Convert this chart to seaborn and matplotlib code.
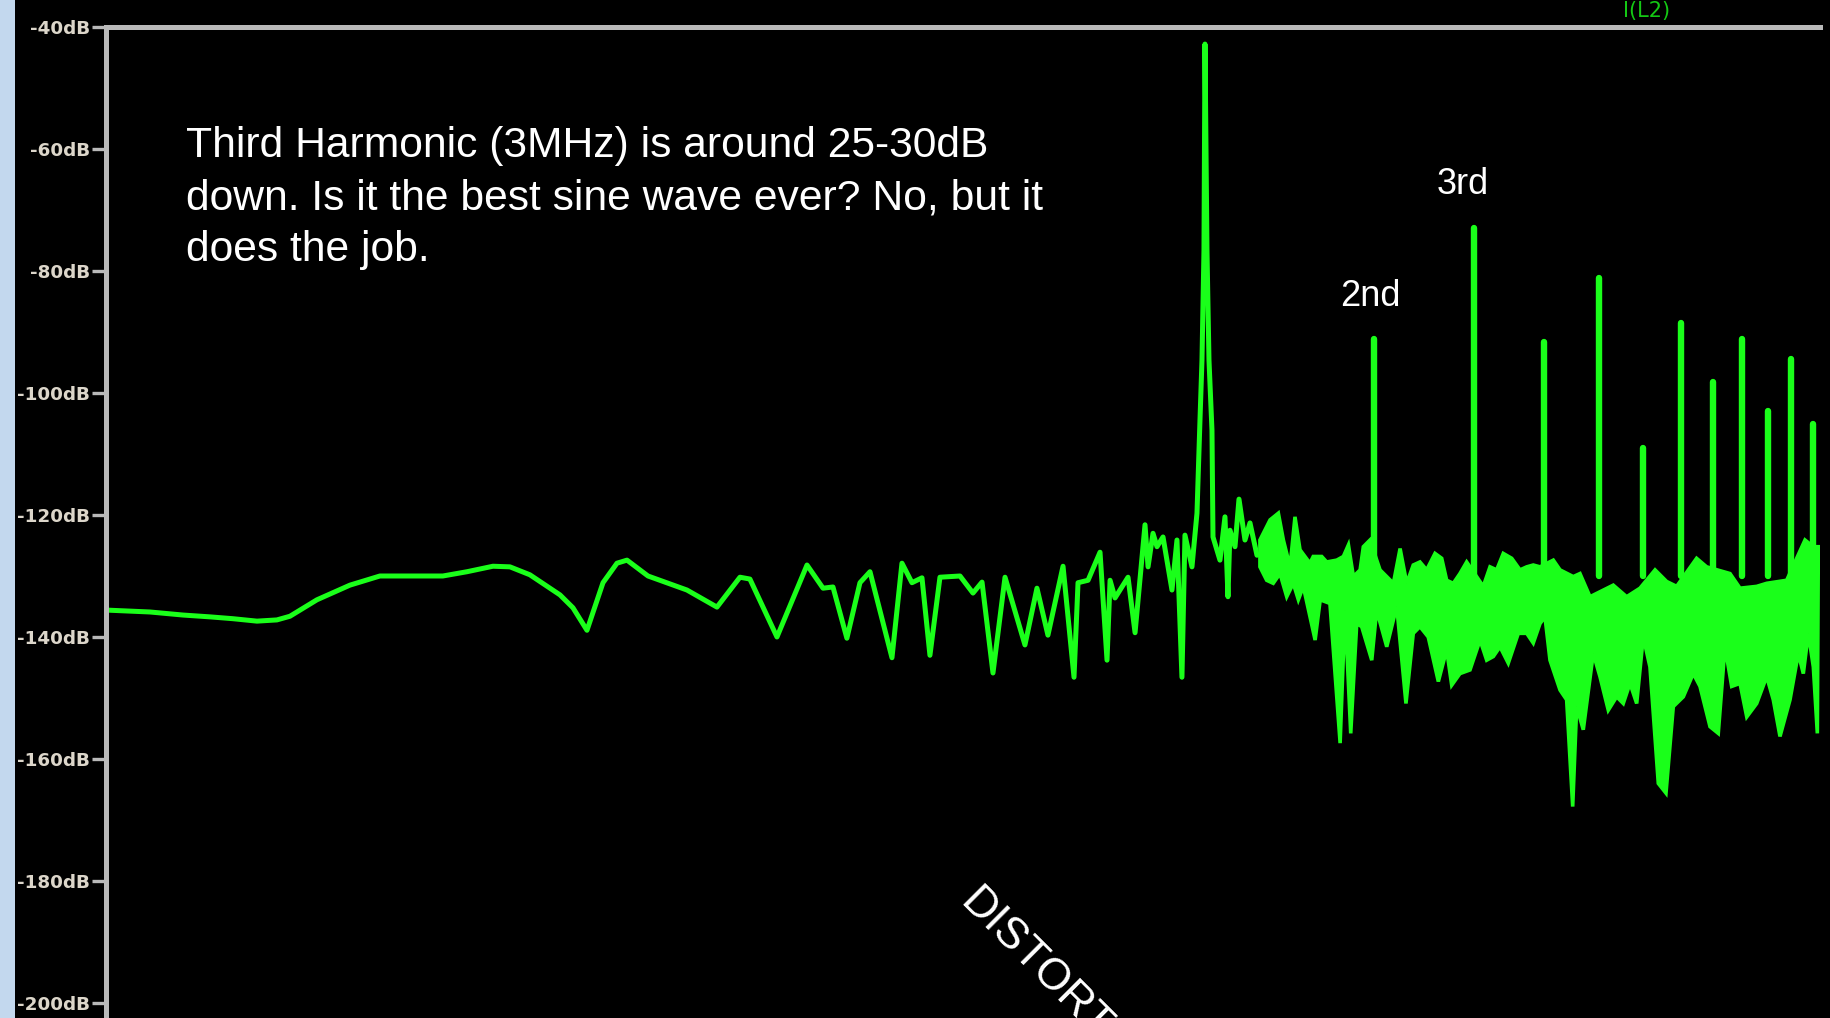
import numpy as np
import pandas as pd
import matplotlib
matplotlib.use("Agg")
import matplotlib.pyplot as plt
from matplotlib.patches import Rectangle
from matplotlib.ticker import NullLocator
import seaborn as sns

# ---------------------------------------------------------------------------
# FFT of I(L2): frequency in kHz, magnitude in dB
# ---------------------------------------------------------------------------
# Trace from the low end up to just past the 1 MHz carrier
trace_khz = [11.26, 13.37, 15.30, 17.09, 18.77, 20.71, 22.47, 23.70, 26.47, 30.29,
             34.24, 44.30, 48.89, 54.37, 58.28, 63.23, 71.52, 75.40, 79.86, 85.27,
             90.29, 94.06, 102.5, 120.2, 135.9, 149.3, 155.5, 173.7, 196.4, 209.7,
             218.4, 231.2, 243.9, 254.1, 278.0, 289.6, 301.7, 314.3, 324.7, 338.3,
             367.2, 387.2, 401.8, 420.2, 432.5, 441.4, 478.9, 503.0, 526.1, 559.6,
             585.3, 595.0, 619.9, 651.0, 669.9, 678.3, 692.2, 730.0, 751.3, 782.5,
             792.3, 808.5, 821.8, 842.3, 873.7, 891.8, 910.1, 921.4, 948.2, 967.8,
             979.8, 987.8, 995.9, 1000.0, 1008.2, 1016.5, 1029.0, 1033.3, 1063.2, 1085.2,
             1098.6, 1107.7, 1130.6, 1149.2, 1177.7, 1202.1, 1237.0]
trace_db = [-135.6, -135.9, -136.4, -136.7, -137.0, -137.4, -137.2, -136.6, -133.9, -131.5,
            -130.0, -130.0, -129.3, -128.4, -128.5, -129.8, -133.1, -135.2, -138.9, -131.1,
            -127.9, -127.4, -130.0, -132.3, -135.1, -130.2, -130.5, -140.0, -128.2, -132.0,
            -131.8, -140.2, -131.1, -129.3, -143.4, -127.9, -131.1, -130.3, -143.0, -130.2,
            -130.0, -132.8, -131.0, -145.9, -136.7, -130.2, -141.3, -132.0, -139.7, -128.4,
            -146.6, -131.1, -130.7, -126.1, -143.8, -130.7, -133.6, -130.2, -139.3, -121.6,
            -128.5, -123.0, -125.2, -123.6, -132.3, -124.1, -146.6, -123.3, -128.5, -119.7,
            -104.4, -94.6, -76.6, -42.8, -76.6, -94.6, -106.1, -123.6, -127.4, -120.3,
            -133.4, -122.5, -125.2, -117.4, -124.1, -121.3, -126.6]

# Dense noise floor above ~1.25 MHz: upper edge
floor_hi_khz = [1252, 1305, 1350, 1378, 1416, 1445, 1475, 1536, 1557, 1612,
                1645, 1714, 1761, 1798, 1835, 1886, 1911, 1964, 2046, 2103,
                2161, 2221, 2282, 2344, 2409, 2476, 2562, 2633, 2687, 2761,
                2837, 2916, 3121, 3208, 3297, 3387, 3506, 3627, 3728, 3829,
                3936, 4156, 4272, 4510, 4635, 4829, 5311, 5610, 5924, 6301,
                6607, 6883, 7468, 7781, 8561, 8919, 9548, 9947, 10794, 11634,
                12037, 12286]
floor_hi_db = [-124.1, -120.8, -119.7, -124.1, -128.5, -120.3, -125.7, -127.9, -126.8, -126.8,
               -127.7, -127.4, -126.8, -124.9, -130.1, -129.0, -125.2, -124.1, -129.0, -130.1,
               -131.2, -125.5, -131.2, -128.2, -127.7, -129.0, -126.3, -127.1, -130.7, -131.2,
               -129.6, -127.7, -131.7, -128.5, -129.0, -126.3, -127.1, -129.0, -128.5, -128.2,
               -128.5, -127.4, -129.0, -130.1, -129.6, -133.4, -131.5, -133.4, -132.0, -129.0,
               -130.9, -131.7, -127.1, -128.5, -129.6, -132.0, -131.7, -131.2, -130.7, -124.1,
               -125.2, -125.2]

# Dense noise floor: lower edge (deep nulls included)
floor_lo_khz = [1252, 1287, 1322, 1359, 1397, 1435, 1465, 1495, 1569, 1602,
                1667, 1738, 1773, 1815, 1860, 1898, 1978, 2018, 2103, 2191,
                2275, 2344, 2409, 2492, 2597, 2687, 2743, 2837, 2956, 3080,
                3165, 3252, 3342, 3457, 3602, 3728, 3829, 3936, 4017, 4100,
                4272, 4389, 4499, 4573, 4698, 4894, 5030, 5204, 5385, 5533,
                5687, 5845, 6004, 6171, 6385, 6589, 6789, 7073, 7367, 7572,
                7889, 8160, 8387, 8620, 8919, 9168, 9548, 9947, 10219, 10503,
                10942, 11320, 11554, 11793, 12037, 12236]
floor_lo_db = [-128.5, -130.7, -131.2, -129.6, -133.4, -131.2, -133.9, -131.7, -140.5, -133.9,
               -134.5, -157.4, -135.6, -155.8, -137.8, -138.3, -143.8, -135.6, -141.6, -135.0,
               -150.9, -139.4, -138.3, -140.0, -147.3, -142.1, -147.9, -146.0, -145.4, -140.5,
               -143.8, -143.2, -141.6, -144.3, -139.4, -139.4, -141.0, -137.8, -136.7, -143.8,
               -148.7, -150.3, -167.8, -151.4, -155.2, -142.7, -146.5, -152.0, -149.8, -150.9,
               -147.6, -150.9, -140.0, -144.9, -164.0, -165.6, -151.4, -149.8, -146.0, -148.1,
               -154.7, -155.8, -141.6, -148.1, -147.6, -153.1, -150.9, -146.5, -150.3, -156.3,
               -150.3, -142.7, -146.0, -139.4, -144.9, -155.8]

# Harmonics of the 1 MHz carrier
fundamental_khz = 1000.0
harmonic_order = [2, 3, 4, 5, 6, 7, 8, 9, 10, 11, 12]
harmonic_db = [-91.1, -73.0, -91.6, -81.1, -109.0, -88.5, -98.2, -91.1, -103.0, -94.4, -105.1]
harmonic_base_db = -130.0

y_ticks = [-40, -60, -80, -100, -120, -140, -160, -180, -200]
y_tick_labels = ["-40dB", "-60dB", "-80dB", "-100dB", "-120dB",
                 "-140dB", "-160dB", "-180dB", "-200dB"]

# ---------------------------------------------------------------------------
W, H = 1830, 1018
TRACE = "#1aff1a"
GRID = "#b9b9b9"

sns.set_style("dark", {"axes.facecolor": "black", "figure.facecolor": "black"})

fig = plt.figure(figsize=(W / 100, H / 100), dpi=100, facecolor="black")

# light window-frame strip on the far left
fig.patches.append(Rectangle((0, 0), 15 / W, 1, transform=fig.transFigure,
                             facecolor="#c3d8ee", edgecolor="none", zorder=0))

ax = fig.add_axes([106 / W, 0, (1820 - 106) / W, 1 - 27 / H])
ax.set_facecolor("black")

sns.lineplot(x=trace_khz, y=trace_db, sort=False, estimator=None,
             color=TRACE, linewidth=3.6, ax=ax)

# noise floor band
band_x = np.concatenate([floor_hi_khz, floor_lo_khz[::-1]])
band_y = np.concatenate([floor_hi_db, floor_lo_db[::-1]])
ax.fill(band_x, band_y, facecolor=TRACE, edgecolor=TRACE, linewidth=2.6, zorder=2)

# harmonic spikes
harm = pd.DataFrame({
    "n": np.repeat(harmonic_order, 2),
    "khz": np.repeat(np.array(harmonic_order) * fundamental_khz, 2),
    "db": np.ravel([[harmonic_base_db, d] for d in harmonic_db]),
})
sns.lineplot(data=harm, x="khz", y="db", units="n", estimator=None, sort=False,
             color=TRACE, linewidth=4.6, ax=ax)

ax.set_xscale("log")
ax.set_xlim(11.17, 12370)
ax.set_ylim(-202.46, -40)
ax.set_xticks([])
ax.xaxis.set_minor_locator(NullLocator())
ax.set_yticks(y_ticks)
ax.set_yticklabels(y_tick_labels, fontfamily="DejaVu Sans", fontsize=13.2,
                   fontweight="bold", color="#dcd6ca")
ax.tick_params(axis="y", direction="out", length=10, width=2.4, color=GRID,
               pad=1.5, left=True)
ax.set_xlabel("")
ax.set_ylabel("")
ax.grid(False)
for side in ("right", "bottom"):
    ax.spines[side].set_visible(False)
for side in ("left", "top"):
    ax.spines[side].set_visible(True)
    ax.spines[side].set_color(GRID)
    ax.spines[side].set_linewidth(3.6)


def fx(px):
    return px / W


def fy(py):
    return 1 - py / H


fig.text(fx(1623), fy(17), "I(L2)", color="#14c814", fontsize=15,
         fontfamily="DejaVu Sans", ha="left", va="baseline")

fig.text(fx(186), fy(198),
         "Third Harmonic (3MHz) is around 25-30dB\n"
         "down. Is it the best sine wave ever? No, but it\n"
         "does the job.",
         color="white", fontsize=30.7, fontfamily="Liberation Sans",
         ha="left", va="center", linespacing=1.39)

fig.text(fx(1370), fy(297), "2nd", color="white", fontsize=26,
         fontfamily="Liberation Sans", ha="center", va="center")
fig.text(fx(1463), fy(185), "3rd", color="white", fontsize=26,
         fontfamily="Liberation Sans", ha="center", va="center")

fig.text(fx(958), fy(904), "DISTORTION", color="white", fontsize=32,
         fontfamily="Liberation Sans", rotation=-45, rotation_mode="anchor",
         ha="left", va="baseline")

fig.savefig("out.png", dpi=100, facecolor="black")
